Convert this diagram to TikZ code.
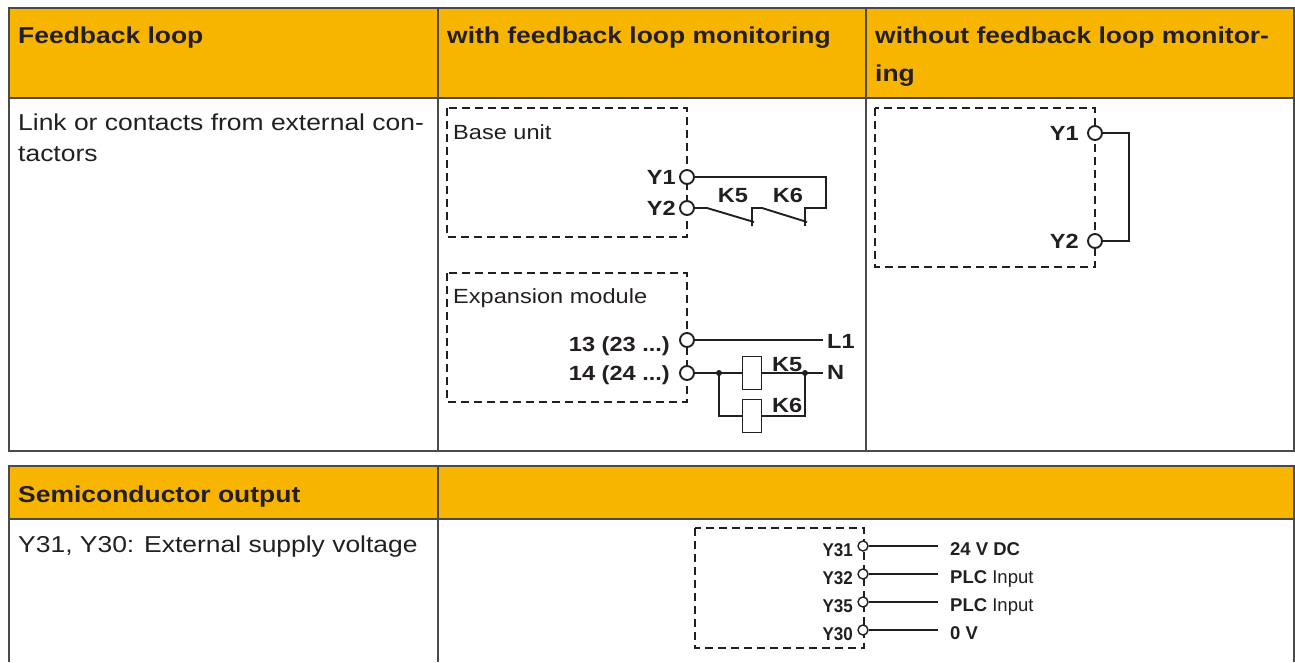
\documentclass[tikz,border=0pt]{standalone}
\usepackage{fontspec}
\setmainfont{Liberation Sans}[FakeStretch=1.15]
\newfontfamily\plainsans{Liberation Sans}
\newfontfamily\narrowsans{Liberation Sans}[FakeStretch=0.92]
\usetikzlibrary{positioning}
\definecolor{pilzorange}{HTML}{F8B500}
\definecolor{ink}{HTML}{231F20}
\definecolor{tablegray}{HTML}{4A4A4A}

\begin{document}
\begin{tikzpicture}[x=1pt, y=-1pt,
    hdr/.style={anchor=base west, inner sep=0, text=ink, font=\fontsize{23}{27}\selectfont\bfseries},
    txt/.style={anchor=base west, inner sep=0, text=ink, font=\fontsize{23}{27}\selectfont},
    tablerule/.style={draw=tablegray, line width=1.6pt},
    wire/.style={draw=ink, line width=1.9pt},
    dashbox/.style={draw=ink, line width=1.9pt, dash pattern=on 8pt off 5pt},
    term/.style={circle, draw=ink, fill=white, line width=1.9pt, inner sep=0, minimum size=14pt},
    sterm/.style={term, line width=1.4pt, minimum size=10pt},
    coil/.style={rectangle, draw=ink, fill=white, line width=1.9pt, inner sep=0, minimum width=19pt, minimum height=33pt},
    jdot/.style={circle, fill=ink, inner sep=0, minimum size=6pt},
    pinlbl/.style={inner sep=0, text=ink, font=\fontsize{20.5}{24}\selectfont\bfseries},
    boxlbl/.style={anchor=base west, inner sep=0, text=ink, font=\fontsize{20.5}{24}\selectfont},
    spinlbl/.style={anchor=base east, inner sep=0, text=ink, font=\narrowsans\fontsize{18.5}{22}\selectfont\bfseries},
    soutlbl/.style={anchor=base west, inner sep=0, text=ink, font=\plainsans\fontsize{18.5}{22}\selectfont}]
    \useasboundingbox (0,0) rectangle (1295,662);

    % Tables
    \fill [pilzorange] (9,8) rectangle (1294,98);
    \fill [pilzorange] (9,466) rectangle (1294,519);
    \draw [tablerule] (9,8) rectangle (1294,451);
    \draw [tablerule] (9,98) -- (1294,98);
    \draw [tablerule] (438,8) -- (438,451);
    \draw [tablerule] (866,8) -- (866,451);
    \draw [tablerule] (9,662) -- (9,466) -- (1294,466) -- (1294,662);
    \draw [tablerule] (9,519) -- (1294,519);
    \draw [tablerule] (438,466) -- (438,662);

    % Texts {headers, rows}
    \node [hdr] (hfb)   at (18,43)   {Feedback loop};
    \node [hdr] (hwith) at (447,43)  {with feedback loop monitoring};
    \node [hdr] (hwo)   at (875,43)  {without feedback loop monitor-};
    \node [hdr] (hwo2)  at (875,81)  {ing};
    \node [txt] (rlink) at (18,130)  {Link or contacts from external con-};
    \node [txt] (rlink2) at (18,161) {tactors};
    \node [hdr] (hsemi) at (18,502)  {Semiconductor output};
    \node [txt] (rsemi) at (18,552)  {Y31, Y30: External supply voltage};

    % Base unit
    \draw [dashbox] (447,108) rectangle (687,237);
    \node [boxlbl] (bu) at (453,139) {Base unit};
    \node [term] (y1) at (687,177) {};
    \node [term] (y2) at (687,208) {};
    \node [pinlbl, anchor=base east] (y1l) at (676,184) {Y1};
    \node [pinlbl, anchor=base east] (y2l) at (676,215) {Y2};
    \coordinate (k5a) at (707,208);
    \coordinate (k5b) at (754,222);
    \coordinate (k5t) at (752,226);
    \coordinate (k5f) at (752,208);
    \coordinate (k6a) at (762,208);
    \coordinate (k6b) at (807,222);
    \coordinate (k6t) at (805,226);
    \coordinate (k6f) at (805,208);
    \coordinate (ret) at (826,177);
    \draw [wire] (y2.east) -- (k5a) -- (k5b);
    \draw [wire] (k5t) -- (k5f) -- (k6a) -- (k6b);
    \draw [wire] (k6t) -- (k6f) -| (ret) -- (y1.east);
    \node [pinlbl, anchor=base] (k5l) at (733,202) {K5};
    \node [pinlbl, anchor=base] (k6l) at (788,202) {K6};

    % Expansion module
    \draw [dashbox] (447,273) rectangle (687,402);
    \node [boxlbl] (em) at (453,303) {Expansion module};
    \node [term] (o13) at (687,340) {};
    \node [term] (o14) at (687,373) {};
    \node [pinlbl, anchor=base east] (o13l) at (670,351) {13 (23 ...)};
    \node [pinlbl, anchor=base east] (o14l) at (670,380) {14 (24 ...)};
    \node [coil] (k5c) at (752,373) {};
    \node [coil] (k6c) at (752,416) {};
    \node [jdot] (d1) at (719,373) {};
    \node [jdot] (d2) at (805,373) {};
    \coordinate (l1) at (823,340);
    \coordinate (nn) at (823,373);
    \draw [wire] (o13.east) -- (l1);
    \draw [wire] (o14.east) -- (d1.center) -- (k5c.west);
    \draw [wire] (k5c.east) -- (d2.center) -- (nn);
    \draw [wire] (d1.center) |- (k6c.west);
    \draw [wire] (k6c.east) -| (d2.center);
    \node [pinlbl, anchor=base west] (l1l) at (827,348) {L1};
    \node [pinlbl, anchor=base west] (nl)  at (827,379) {N};
    \node [pinlbl, anchor=base west] (k5cl) at (772,371) {K5};
    \node [pinlbl, anchor=base west] (k6cl) at (772,412) {K6};

    % Without monitoring
    \draw [dashbox] (875,108) rectangle (1095,267);
    \node [term] (f1) at (1095,133) {};
    \node [term] (f2) at (1095,241) {};
    \coordinate (link) at (1129,133);
    \draw [wire] (f1.east) -- (link) |- (f2.east);
    \node [pinlbl, anchor=base east] (f1l) at (1079,140) {Y1};
    \node [pinlbl, anchor=base east] (f2l) at (1079,248) {Y2};

    % Semiconductor output
    \draw [dashbox, line width=1.4pt, dash pattern=on 8pt off 5pt] (695,528) rectangle (864,648);
    \node [sterm] (s31) at (863,546) {};
    \node [sterm] (s32) at (863,574) {};
    \node [sterm] (s35) at (863,602) {};
    \node [sterm] (s30) at (863,630) {};
    \coordinate (e31) at (938,546);
    \coordinate (e32) at (938,574);
    \coordinate (e35) at (938,602);
    \coordinate (e30) at (938,630);
    \draw [wire, line width=1.4pt] (s31.east) -- (e31);
    \draw [wire, line width=1.4pt] (s32.east) -- (e32);
    \draw [wire, line width=1.4pt] (s35.east) -- (e35);
    \draw [wire, line width=1.4pt] (s30.east) -- (e30);
    \node [spinlbl] (s31l) at (853,556) {Y31};
    \node [spinlbl] (s32l) at (853,584) {Y32};
    \node [spinlbl] (s35l) at (853,612) {Y35};
    \node [spinlbl] (s30l) at (853,640) {Y30};
    \node [soutlbl] (o31) at (950,555) {\textbf{24 V DC}};
    \node [soutlbl] (o32) at (950,583) {\textbf{PLC} Input};
    \node [soutlbl] (o35) at (950,611) {\textbf{PLC} Input};
    \node [soutlbl] (o30) at (950,639) {\textbf{0 V}};
\end{tikzpicture}
\end{document}
